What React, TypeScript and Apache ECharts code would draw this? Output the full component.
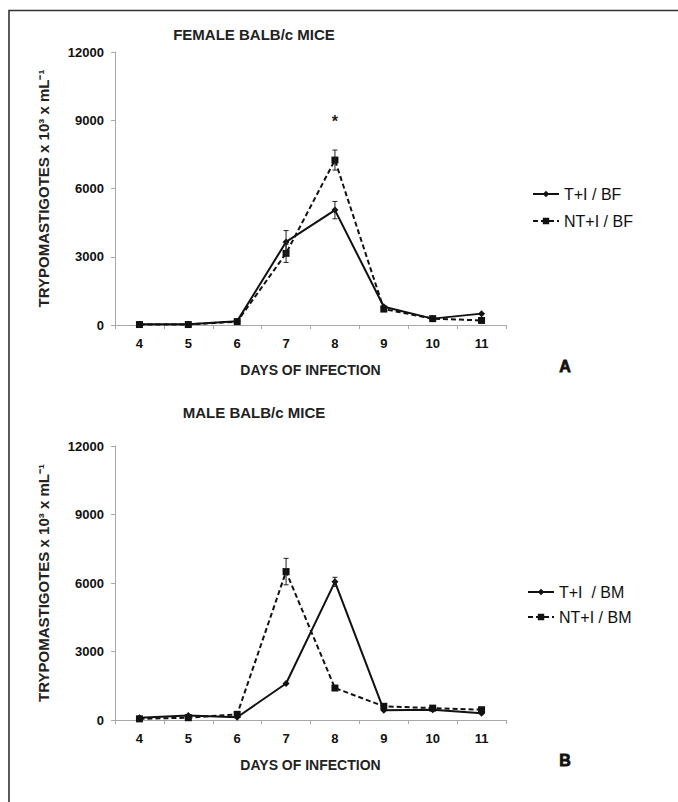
import React, { useEffect, useRef } from "react";
import * as echarts from "echarts";

// Days of infection (category axis)
const days = ["4", "5", "6", "7", "8", "9", "10", "11"];

// Female BALB/c mice – parasitaemia (x10^3 trypomastigotes / mL)
const femaleTI = [30, 30, 170, 3650, 5050, 800, 280, 500];
const femaleTIErr = [0, 0, 0, 500, 380, 0, 0, 0];
const femaleNTI = [20, 20, 150, 3150, 7250, 700, 280, 200];
const femaleNTIErr = [0, 0, 0, 400, 440, 0, 0, 0];

// Male BALB/c mice
const maleTI = [100, 200, 120, 1600, 6050, 430, 450, 300];
const maleTIErr = [0, 0, 0, 0, 200, 0, 0, 0];
const maleNTI = [50, 100, 250, 6500, 1400, 600, 520, 450];
const maleNTIErr = [0, 0, 0, 580, 0, 0, 0, 0];

// Significance mark above day 8 (female)
const femaleSignif = [{ day: "8", value: 8950, text: "*" }];

const yMax = 12000;
const yStep = 3000;

const FONT = "Liberation Sans, Arial, sans-serif";
const INK = "#111";
const AXIS_GREY = "#a8a8a8";

function errorData(values: number[], errs: number[]) {
  return values.map((v, i) => [i, v - errs[i], v + errs[i]]);
}

function errorSeries(name: string, axisIdx: number, values: number[], errs: number[]) {
  return {
    type: "custom",
    name,
    xAxisIndex: axisIdx,
    yAxisIndex: axisIdx,
    z: 5,
    encode: { x: 0, y: [1, 2] },
    data: errorData(values, errs),
    renderItem: (params: any, api: any) => {
      const idx = api.value(0);
      const lo = api.value(1);
      const hi = api.value(2);
      if (hi - lo <= 0) return null;
      const top = api.coord([idx, hi]);
      const bot = api.coord([idx, lo]);
      const w = 2.5;
      const style = { stroke: "#222", lineWidth: 1 };
      return {
        type: "group",
        children: [
          { type: "line", shape: { x1: top[0], y1: top[1], x2: bot[0], y2: bot[1] }, style },
          { type: "line", shape: { x1: top[0] - w, y1: top[1], x2: top[0] + w, y2: top[1] }, style },
          { type: "line", shape: { x1: bot[0] - w, y1: bot[1], x2: bot[0] + w, y2: bot[1] }, style },
        ],
      };
    },
  };
}

function xAxis(gridIndex: number) {
  return {
    type: "category",
    gridIndex,
    data: days,
    boundaryGap: true,
    name: "DAYS OF INFECTION",
    nameLocation: "middle",
    nameGap: 38,
    nameTextStyle: { fontFamily: FONT, fontWeight: "bold", fontSize: 14, color: "#222", verticalAlign: "top" },
    axisLine: { show: true, lineStyle: { color: AXIS_GREY, width: 1 } },
    axisTick: { show: true, length: 4, inside: false, lineStyle: { color: AXIS_GREY } },
    axisLabel: { fontFamily: FONT, fontWeight: "bold", fontSize: 13, color: INK, margin: 12 },
    splitLine: { show: false },
  };
}

function yAxis(gridIndex: number) {
  return {
    type: "value",
    gridIndex,
    min: 0,
    max: yMax,
    interval: yStep,
    name: "TRYPOMASTIGOTES x 10³ x mL⁻¹",
    nameLocation: "middle",
    nameGap: 64,
    nameTextStyle: { fontFamily: FONT, fontWeight: "bold", fontSize: 15, color: "#222" },
    axisLine: { show: true, lineStyle: { color: AXIS_GREY, width: 1 } },
    axisTick: { show: true, length: 4, inside: false, lineStyle: { color: AXIS_GREY } },
    axisLabel: {
      fontFamily: FONT,
      fontWeight: "bold",
      fontSize: 13,
      color: INK,
      margin: 11,
      formatter: (v: number) => String(v),
    },
    splitLine: { show: false },
  };
}

function lineSeries(name: string, axisIdx: number, values: number[], dashed: boolean, extra: any = {}) {
  return {
    type: "line",
    name,
    xAxisIndex: axisIdx,
    yAxisIndex: axisIdx,
    data: values,
    z: 4,
    symbol: dashed ? "rect" : "diamond",
    symbolSize: 7,
    showAllSymbol: true,
    lineStyle: { color: "#111", width: 2, type: dashed ? [5, 3] : "solid" },
    itemStyle: { color: "#111", borderWidth: 0 },
    emphasis: { disabled: true },
    ...extra,
  };
}

export default function App() {
  const ref = useRef<HTMLDivElement>(null);

  useEffect(() => {
    if (!ref.current) return;
    const chart = echarts.init(ref.current, undefined, { renderer: "svg" });

    const legendText = { fontFamily: FONT, fontSize: 16, color: INK };

    chart.setOption({
      animation: false,
      backgroundColor: "#fff",
      grid: [
        { left: 115, top: 52, width: 391, height: 273 },
        { left: 115, top: 446, width: 391, height: 274 },
      ],
      xAxis: [xAxis(0), xAxis(1)],
      yAxis: [yAxis(0), yAxis(1)],
      legend: [
        {
          orient: "vertical",
          left: 532,
          top: 186,
          padding: 0,
          itemWidth: 26,
          itemHeight: 8,
          itemGap: 11,
          textStyle: legendText,
          data: ["T+I / BF", "NT+I / BF"],
          selectedMode: false,
        },
        {
          orient: "vertical",
          left: 527,
          top: 584,
          padding: 0,
          itemWidth: 26,
          itemHeight: 8,
          itemGap: 9,
          textStyle: legendText,
          data: ["T+I  / BM", "NT+I / BM"],
          selectedMode: false,
        },
      ],
      series: [
        errorSeries("errTIBF", 0, femaleTI, femaleTIErr),
        errorSeries("errNTIBF", 0, femaleNTI, femaleNTIErr),
        lineSeries("T+I / BF", 0, femaleTI, false),
        lineSeries("NT+I / BF", 0, femaleNTI, true, {
          markPoint: {
            symbol: "circle",
            symbolSize: 1,
            itemStyle: { color: "rgba(0,0,0,0)" },
            label: {
              show: true,
              position: "inside",
              fontFamily: FONT,
              fontWeight: "bold",
              fontSize: 16,
              color: "#222",
              formatter: (p: any) => p.data.name,
            },
            data: femaleSignif.map((s) => ({ name: s.text, coord: [s.day, s.value] })),
          },
        }),
        errorSeries("errTIBM", 1, maleTI, maleTIErr),
        errorSeries("errNTIBM", 1, maleNTI, maleNTIErr),
        lineSeries("T+I  / BM", 1, maleTI, false),
        lineSeries("NT+I / BM", 1, maleNTI, true),
      ],
      graphic: [
        {
          type: "rect",
          silent: true,
          shape: { x: 9, y: 10.5, width: 720, height: 830 },
          style: { fill: "none", stroke: "#333", lineWidth: 1.6 },
        },
        {
          type: "text",
          x: 254,
          y: 34,
          style: {
            text: "FEMALE BALB/c MICE",
            fontFamily: FONT,
            fontWeight: "bold",
            fontSize: 15,
            fill: "#222",
            textAlign: "center",
            textVerticalAlign: "middle",
          },
        },
        {
          type: "text",
          x: 254,
          y: 412,
          style: {
            text: "MALE BALB/c MICE",
            fontFamily: FONT,
            fontWeight: "bold",
            fontSize: 15,
            fill: "#222",
            textAlign: "center",
            textVerticalAlign: "middle",
          },
        },
        {
          type: "text",
          x: 565,
          y: 366,
          style: {
            text: "A",
            fontFamily: FONT,
            fontWeight: 900,
            fontSize: 16,
            fill: "#111",
            textAlign: "center",
            textVerticalAlign: "middle",
            stroke: "#111",
            lineWidth: 0.8,
          },
        },
        {
          type: "text",
          x: 565,
          y: 760,
          style: {
            text: "B",
            fontFamily: FONT,
            fontWeight: 900,
            fontSize: 16,
            fill: "#111",
            textAlign: "center",
            textVerticalAlign: "middle",
            stroke: "#111",
            lineWidth: 0.8,
          },
        },
      ],
    });

    return () => chart.dispose();
  }, []);

  return (
    <div
      ref={ref}
      style={{ position: "absolute", left: 0, top: 0, width: 678, height: 802, background: "#fff" }}
    />
  );
}
